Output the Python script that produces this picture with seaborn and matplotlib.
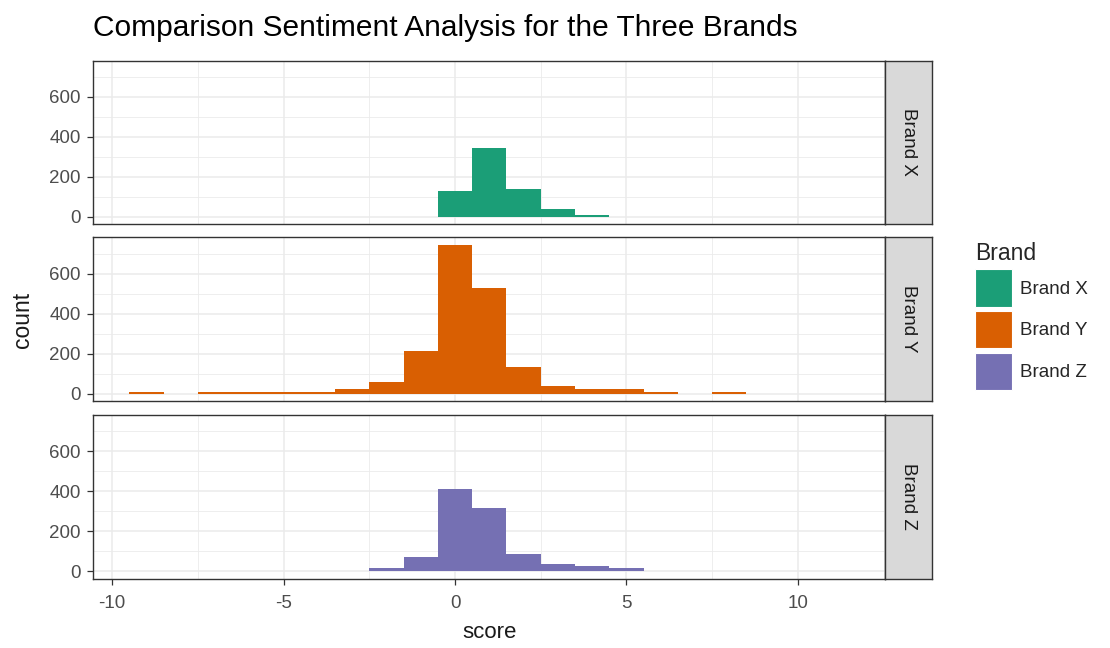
import numpy as np
import pandas as pd
import matplotlib
matplotlib.use("Agg")
import matplotlib.pyplot as plt
from matplotlib.patches import Patch
from matplotlib.ticker import MultipleLocator
import seaborn as sns

# ------------------------------
# DATA (bins of width 1 centred on integers)
# ------------------------------
BRANDS = ["Brand X", "Brand Y", "Brand Z"]
COLORS = ["#1B9E77", "#D95F02", "#7570B3"]

x_scores = [0, 1, 2, 3, 4]
x_counts = [128, 342, 140, 38, 10]

y_scores = [-9, -7, -6, -5, -4, -3, -2, -1, 0, 1, 2, 3, 4, 5, 6, 8]
y_counts = [10, 10, 10, 10, 10, 21, 56, 211, 745, 530, 132, 40, 21, 21, 10, 10]

z_scores = [-2, -1, 0, 1, 2, 3, 4, 5]
z_counts = [13, 70, 410, 318, 88, 35, 25, 13]

x_ticks = [-10, -5, 0, 5, 10]
y_ticks = [0, 200, 400, 600]

df = pd.concat([
    pd.DataFrame({"Brand": "Brand X", "score": x_scores, "n": x_counts}),
    pd.DataFrame({"Brand": "Brand Y", "score": y_scores, "n": y_counts}),
    pd.DataFrame({"Brand": "Brand Z", "score": z_scores, "n": z_counts}),
], ignore_index=True)

# ------------------------------
# STYLE
# ------------------------------
sns.set_theme(style="white")
plt.rcParams["font.family"] = ["Liberation Sans", "DejaVu Sans"]
plt.rcParams["axes.unicode_minus"] = False

W, H = 1110, 648
fig = plt.figure(figsize=(W / 100, H / 100), dpi=100)

left, right = 93.3, 885.3
strip_w = 46.4
tops = [60.5, 237.5, 415.0]
ph = 163.5

ymax = df["n"].max()
ylim = (-0.05 * ymax, 1.05 * ymax)
xlim = (-10.55, 12.55)

border = "#333333"
for i, (brand, col) in enumerate(zip(BRANDS, COLORS)):
    ax = fig.add_axes([left / W, 1 - (tops[i] + ph) / H, (right - left) / W, ph / H])
    sub = df[df["Brand"] == brand]
    sns.histplot(data=sub, x="score", weights="n", discrete=True, color=col,
                 alpha=1, linewidth=0, edgecolor=None, ax=ax, zorder=3)
    ax.set_xlim(*xlim)
    ax.set_ylim(*ylim)
    ax.set_xticks(x_ticks)
    ax.set_yticks(y_ticks)
    ax.xaxis.set_minor_locator(MultipleLocator(2.5))
    ax.yaxis.set_minor_locator(MultipleLocator(100))
    ax.grid(which="major", color="#EBEBEB", lw=1.1, zorder=0)
    ax.grid(which="minor", color="#EBEBEB", lw=0.6, zorder=0)
    ax.set_axisbelow(True)
    for s in ax.spines.values():
        s.set_color(border)
        s.set_linewidth(1.0)
    ax.tick_params(axis="both", which="major", length=4, width=0.9, color=border,
                   labelsize=13.5, labelcolor="#4D4D4D",
                   left=True, bottom=(i == 2))
    ax.tick_params(axis="y", pad=5)
    ax.tick_params(axis="x", pad=8)
    ax.tick_params(which="minor", length=0)
    ax.set_ylabel("")
    ax.set_xlabel("")
    if i < 2:
        ax.set_xticklabels([])
    else:
        ax.set_xlabel("score", fontsize=16, color="#1A1A1A", labelpad=7)

    # facet strip on the right
    sax = fig.add_axes([right / W, 1 - (tops[i] + ph) / H, strip_w / W, ph / H])
    sax.set_facecolor("#D9D9D9")
    sax.set_xticks([])
    sax.set_yticks([])
    for s in sax.spines.values():
        s.set_color(border)
        s.set_linewidth(1.0)
    sax.text(0.5, 0.5, brand, rotation=-90, ha="center", va="center",
             fontsize=13.5, color="#1A1A1A", transform=sax.transAxes)

fig.text(22 / W, 1 - 320 / H, "count", rotation=90, ha="center", va="center",
         fontsize=16.5, color="#1A1A1A")
fig.text(left / W, 1 - 28 / H, "Comparison Sentiment Analysis for the Three Brands",
         ha="left", va="center", fontsize=21.5, color="black")

handles = [Patch(facecolor=c, edgecolor="white", lw=0.8) for c in COLORS]
leg = fig.legend(handles, BRANDS, title="Brand", loc="upper left",
                 bbox_to_anchor=(962 / W, 1 - 229 / H), frameon=False,
                 fontsize=13.5, title_fontsize=16.5, handlelength=1.95,
                 handleheight=2.7, labelspacing=0.22, handletextpad=0.45,
                 borderpad=0.2)
leg._legend_box.align = "left"

fig.savefig("out.png", dpi=100)
